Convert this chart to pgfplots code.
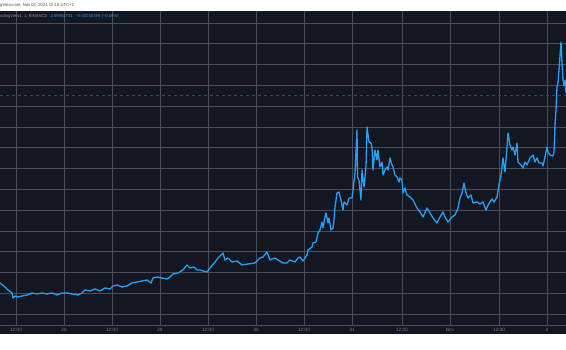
\documentclass[border=0pt]{standalone}
\usepackage{pgfplots}
\pgfplotsset{compat=1.18}
\usepackage{fontspec}
\setmainfont{Liberation Sans}
\definecolor{bgdark}{HTML}{131722}
\definecolor{gridc}{HTML}{4A4E5A}
\definecolor{tvblue}{HTML}{26A0F5}
\definecolor{txtgrey}{HTML}{787B86}
\begin{document}
\begin{tikzpicture}[x=1pt,y=1pt]
\path[use as bounding box] (0,-25) rectangle (566,325);
\fill[white] (0,-25) rectangle (566,325);
\fill[bgdark] (0,-9) rectangle (566,314);
\begin{axis}[
  at={(0,0)}, anchor=south west,
  scale only axis, width=566pt, height=314pt,
  xmin=0, xmax=566, ymin=11, ymax=325, y dir=reverse,
  axis lines*=left,
  x axis line style={draw=gridc, line width=0.6pt},
  y axis line style={draw=none},
  major tick length=0pt,
  xtick={16,64,112,160,208,256,304,352,402,450,499,547},
  xticklabels={12:00,28,12:00,29,12:00,30,12:00,31,12:00,Nov,12:00,2},
  ytick={23,43.8,64.6,85.4,106.2,127,147.8,168.6,189.4,210.2,231,251.8,272.6,293.4,314.2},
  yticklabels={},
  grid=major,
  grid style={draw=gridc, line width=0.6pt},
  xticklabel style={font=\fontsize{4.7}{5}\selectfont, text=txtgrey, anchor=center, yshift=-4.5pt},
  clip=false,
]
\addplot[tvblue!40!bgdark, dashed, line width=0.6pt] coordinates {(0,95) (566,95)};
\addplot[tvblue, line width=1.3pt, line join=round] coordinates {
(0,283)(5,287)(8,290)(12,293)(13,298)(15,296)(18,297)(22,296)(27,295)(32,293)
(37,294)(42,293)(47,294)(52,293)(57,295)(62,293)(67,293)(72,294)(78,295)(82,293)
(85,290)(90,291)(95,289)(100,291)(105,288)(110,289)(113,286)(117,285)(122,287)(127,286)
(132,283)(137,282)(142,281)(147,280)(151,283)(153,278)(157,277)(162,278)(167,279)(170,277)
(173,274)(178,273)(183,270)(187,265)(190,268)(194,267)(197,270)(200,270)(207,272)(210,268)
(215,262)(218,258)(223,253)(225,260)(228,258)(232,262)(237,261)(242,265)(248,264)(255,263)
(260,258)(263,257)(267,252)(270,260)(275,258)(278,260)(283,263)(287,263)(290,260)(295,262)
(298,258)(300,257)(303,261)(307,255)(308,250)(312,247)(313,243)(316,242)(318,233)(320,230)
(322,222)(323,228)(325,217)(326,213)(328,223)(329,218)(331,230)(333,228)(334,220)(335,207)
(337,193)(339,192)(341,200)(343,210)(344,202)(347,205)(349,198)(352,198)(353,190)(355,173)
(357,130)(357.5,177)(359,180)(361,200)(362,170)(364,187)(366,167)(367,127)(369,142)(371,143)
(372,148)(373,170)(375,150)(377,160)(378,150)(380,167)(382,162)(383,175)(385,170)(387,167)
(388,170)(390,158)(392,165)(393,167)(395,175)(397,177)(399,182)(400,178)(402,180)(403,193)
(405,188)(407,195)(410,197)(413,200)(417,208)(420,212)(423,217)(427,208)(430,213)(433,218)
(437,223)(440,217)(443,212)(445,217)(448,222)(452,217)(455,215)(458,208)(460,198)(462,193)
(464,183)(466,193)(468,198)(471,195)(473,203)(477,202)(480,204)(483,202)(486,210)(488,205)
(492,199)(494,202)(497,197)(499,185)(501,175)(503,158)(505,172)(507,147)(508,133)(510,145)
(512,150)(513,147)(515,155)(517,143)(518,162)(521,165)(523,168)(525,162)(527,165)(530,158)
(533,155)(535,162)(537,158)(539,163)(542,163)(543,166)(545,157)(547,147)(548,152)(550,155)
(553,156)(554,152)(555,125)(556,110)(557,87)(558,83)(559,70)(561,42)(562,63)(563,80)
(564,86)(565,80)(566,93)
};
\end{axis}
\node[anchor=west, inner sep=0pt, text=black!70, font=\fontsize{4.2}{5}\selectfont] at (0,319.5) {gView.com, Nov 02, 2021 12:18 UTC+2};
\node[anchor=west, inner sep=0pt, font=\fontsize{4.2}{5}\selectfont] at (0,309) {\textcolor{txtgrey!80!white}{adingView1, 1, BINANCE}\hspace{3pt}\textcolor{tvblue}{2.69954731}\hspace{3pt}\textcolor{tvblue}{\mbox{−}0.00240399 (\mbox{−}0.09\%)}};
\end{tikzpicture}
\end{document}
